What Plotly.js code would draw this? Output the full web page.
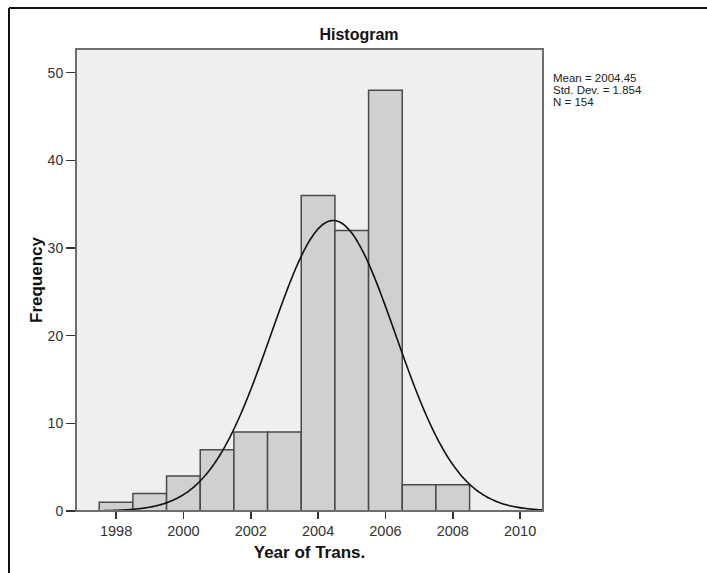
<!DOCTYPE html>
<html>
<head>
<meta charset="utf-8">
<script src="https://cdn.plot.ly/plotly-3.0.1.min.js"></script>
<style>
  html, body { margin: 0; padding: 0; background: #ffffff; }
  #chart { width: 707px; height: 573px; }
</style>
</head>
<body>
<div id="chart"></div>
<script>
// Yearly bins (bin centres) and their frequencies
const binCentres = [1998, 1999, 2000, 2001, 2002, 2003, 2004, 2005, 2006, 2007, 2008];
const frequencies = [1, 2, 4, 7, 9, 9, 36, 32, 48, 3, 3];

// Summary statistics shown beside the plot
const statMean = 2004.45;
const statStdDev = 1.854;
const statN = 154;
const binWidth = 1;

// Axis ranges and ticks
const xRange = [1996.81, 2010.68];
const yRange = [0, 52.7];
const xTickVals = [1998, 2000, 2002, 2004, 2006, 2008, 2010];
const yTickVals = [0, 10, 20, 30, 40, 50];

// Normal curve scaled to counts, from the stated mean, std. dev. and N
const curveX = [];
const curveY = [];
const steps = 300;
for (let i = 0; i <= steps; i++) {
  const x = xRange[0] + (xRange[1] - xRange[0]) * i / steps;
  const z = (x - statMean) / statStdDev;
  curveX.push(x);
  curveY.push(statN * binWidth / (statStdDev * Math.sqrt(2 * Math.PI)) * Math.exp(-0.5 * z * z));
}

// Plot area in pixels
const W = 707, H = 573;
const plotL = 76, plotR = 543, plotT = 49, plotB = 511;
const px = (v) => (v - plotL) / (plotR - plotL);
const py = (v) => (plotB - v) / (plotB - plotT);

const font = 'Liberation Sans, Arial, Helvetica, sans-serif';

const traces = [
  {
    type: 'bar',
    x: binCentres,
    y: frequencies,
    width: binWidth,
    marker: { color: '#d0d0d0', line: { color: '#4a4a4a', width: 1.5 } },
    hoverinfo: 'x+y'
  },
  {
    type: 'scatter',
    mode: 'lines',
    x: curveX,
    y: curveY,
    line: { color: '#111111', width: 1.6, shape: 'spline' },
    hoverinfo: 'skip'
  }
];

const statLines = [
  'Mean = ' + statMean.toFixed(2),
  'Std. Dev. = ' + statStdDev.toFixed(3),
  'N = ' + statN
];

const annotations = statLines.map((t, i) => ({
  xref: 'paper', yref: 'paper',
  x: px(551), y: py(78 + i * 12.2),
  xanchor: 'left', yanchor: 'middle',
  text: t, showarrow: false,
  font: { family: font, size: 11.5, color: '#222222' }
}));

// y axis title, placed as rotated text left of the tick labels
annotations.push({
  xref: 'paper', yref: 'paper',
  x: px(36), y: py(280),
  xanchor: 'center', yanchor: 'middle',
  textangle: -90,
  text: '<b>Frequency</b>', showarrow: false,
  font: { family: font, size: 17, color: '#111111' }
});

const layout = {
  width: W, height: H,
  margin: { l: plotL, r: W - plotR, t: plotT, b: H - plotB, pad: 0 },
  paper_bgcolor: '#ffffff',
  plot_bgcolor: '#efefef',
  showlegend: false,
  bargap: 0,
  font: { family: font, color: '#333333' },
  title: {
    text: '<b>Histogram</b>',
    x: 359 / W, xref: 'container', xanchor: 'center',
    y: 1 - 34 / H, yref: 'container', yanchor: 'middle',
    font: { family: font, size: 16, color: '#111111' }
  },
  xaxis: {
    range: xRange,
    tickvals: xTickVals,
    ticktext: xTickVals.map(String),
    ticks: 'outside', ticklen: 7, tickwidth: 1.5, tickcolor: '#333333',
    tickfont: { family: font, size: 14.5, color: '#333333' },
    showgrid: false, zeroline: false,
    showline: false,
    title: {
      text: '<b>Year of Trans.</b>',
      standoff: 7,
      font: { family: font, size: 17, color: '#111111' }
    }
  },
  yaxis: {
    range: yRange,
    tickvals: yTickVals,
    ticktext: yTickVals.map(String),
    ticks: 'outside', ticklen: 9, tickwidth: 1.5, tickcolor: '#333333',
    tickfont: { family: font, size: 14, color: '#333333' },
    showgrid: false, zeroline: false,
    showline: false
  },
  annotations: annotations,
  shapes: [
    // plot frame
    { type: 'rect', xref: 'paper', yref: 'paper', x0: 0, x1: 1, y0: 0, y1: 1,
      line: { color: '#6e6e6e', width: 2 }, layer: 'above' },
    // outer page frame: top and left edges
    { type: 'line', xref: 'paper', yref: 'paper', x0: px(9), x1: px(707), y0: py(8), y1: py(8),
      line: { color: '#111111', width: 2 } },
    { type: 'line', xref: 'paper', yref: 'paper', x0: px(9), x1: px(9), y0: py(8), y1: py(573),
      line: { color: '#111111', width: 2 } }
  ]
};

Plotly.newPlot('chart', traces, layout, { displayModeBar: false, staticPlot: true });
</script>
</body>
</html>
